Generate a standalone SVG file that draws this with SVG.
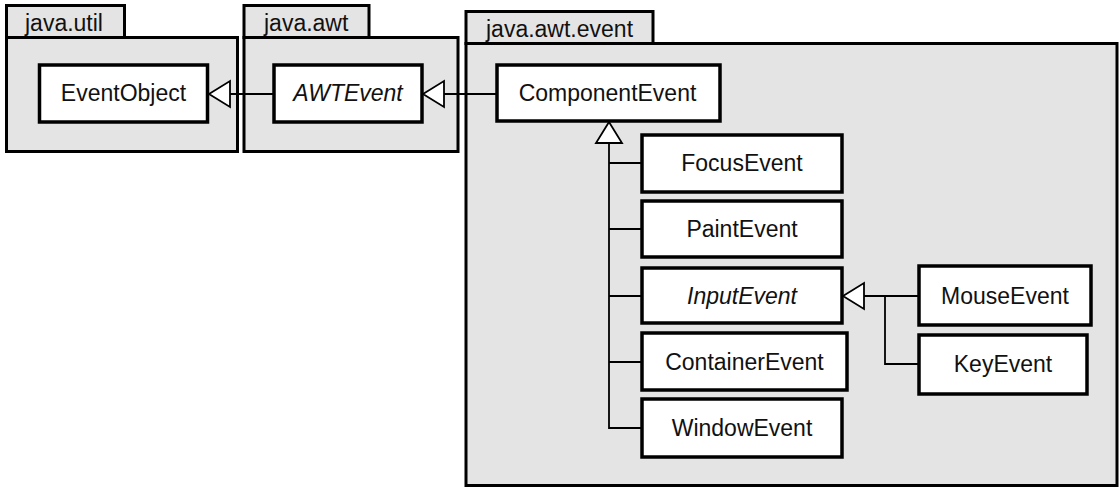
<svg xmlns="http://www.w3.org/2000/svg" width="1120" height="488" viewBox="0 0 1120 488">
  <style>
    .pkg { fill: #e4e4e4; stroke: #000; stroke-width: 3; }
    .cls { fill: #fff; stroke: #000; stroke-width: 3.5; }
    .lbl { font-family: "Liberation Sans", Arial, sans-serif; font-size: 23px; fill: #111; }
    .name { text-anchor: middle; }
    .abstract { font-style: italic; }
    .edge { fill: none; stroke: #000; stroke-width: 1.8; }
    .head { fill: #fff; stroke: #000; stroke-width: 1.8; stroke-linejoin: miter; }
  </style>

  <!-- packages -->
  <g id="pkg-java-util">
    <rect class="pkg" x="6.5" y="5.5" width="118" height="32"/>
    <rect class="pkg" x="6.5" y="37.5" width="231" height="114"/>
    <text class="lbl" x="25" y="31">java.util</text>
  </g>
  <g id="pkg-java-awt">
    <rect class="pkg" x="244" y="5.5" width="125" height="32"/>
    <rect class="pkg" x="244" y="37.5" width="214" height="114"/>
    <text class="lbl" x="264" y="31">java.awt</text>
  </g>
  <g id="pkg-java-awt-event">
    <rect class="pkg" x="466" y="11.5" width="187" height="32"/>
    <rect class="pkg" x="466" y="43.5" width="651" height="442"/>
    <text class="lbl" x="486" y="37">java.awt.event</text>
  </g>

  <!-- generalization connectors -->
  <g id="connectors">
    <path class="edge" d="M273 94 H230"/>
    <path class="head" d="M209 94 L230 81 L230 107 Z"/>
    <path class="edge" d="M496 94 H444"/>
    <path class="head" d="M423 94 L444 81 L444 107 Z"/>
    <path class="edge" d="M609 143 V428 H641 M609 163 H641 M609 229 H641 M609 296 H641 M609 362 H641"/>
    <path class="head" d="M609 122 L622 143 L596 143 Z"/>
    <path class="edge" d="M918 296 H864 M885 296 V364 H918"/>
    <path class="head" d="M843 296 L864 283 L864 309 Z"/>
  </g>

  <!-- classes -->
  <g id="EventObject">
    <rect class="cls" x="39.5" y="65" width="168" height="57"/>
    <text class="lbl name" x="123.5" y="101">EventObject</text>
  </g>
  <g id="AWTEvent">
    <rect class="cls" x="274" y="65" width="148" height="57"/>
    <text class="lbl name abstract" x="348" y="101">AWTEvent</text>
  </g>
  <g id="ComponentEvent">
    <rect class="cls" x="497" y="65" width="223" height="56"/>
    <text class="lbl name" x="607.5" y="101">ComponentEvent</text>
  </g>
  <g id="FocusEvent">
    <rect class="cls" x="642" y="135" width="200" height="57"/>
    <text class="lbl name" x="742" y="171">FocusEvent</text>
  </g>
  <g id="PaintEvent">
    <rect class="cls" x="642" y="201" width="200" height="56"/>
    <text class="lbl name" x="742" y="237">PaintEvent</text>
  </g>
  <g id="InputEvent">
    <rect class="cls" x="642" y="268" width="200" height="55"/>
    <text class="lbl name abstract" x="742" y="304">InputEvent</text>
  </g>
  <g id="ContainerEvent">
    <rect class="cls" x="642" y="333" width="205" height="57"/>
    <text class="lbl name" x="744.5" y="370">ContainerEvent</text>
  </g>
  <g id="WindowEvent">
    <rect class="cls" x="642" y="399" width="200" height="58"/>
    <text class="lbl name" x="742" y="436">WindowEvent</text>
  </g>
  <g id="MouseEvent">
    <rect class="cls" x="919" y="266" width="172" height="59"/>
    <text class="lbl name" x="1005" y="304">MouseEvent</text>
  </g>
  <g id="KeyEvent">
    <rect class="cls" x="919" y="335" width="168" height="59"/>
    <text class="lbl name" x="1003" y="372">KeyEvent</text>
  </g>
</svg>
